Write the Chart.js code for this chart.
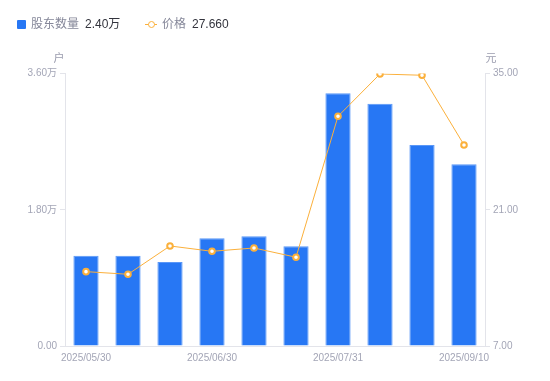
<!DOCTYPE html>
<html>
<head>
<meta charset="utf-8">
<script src="https://cdn.jsdelivr.net/npm/chart.js@4.4.1/dist/chart.umd.min.js"></script>
<style>
  html, body { margin: 0; padding: 0; background: #fff; }
  #wrap { position: relative; width: 550px; height: 381px; }
  #legend { position: absolute; left: 0; top: 0; width: 550px; height: 40px;
    font-family: "Liberation Sans", "Noto Sans CJK SC", sans-serif; font-size: 12px; }
  .lg { position: absolute; top: 17px; line-height: 14px; white-space: nowrap; }
  .nm { color: #858799; }
  .vl { color: #33343d; }
  canvas { position: absolute; left: 0; top: 0; }
</style>
</head>
<body>
<div id="wrap">
  <canvas id="c" width="550" height="381"></canvas>
  <div id="legend">
    <div style="position:absolute;left:17px;top:20px;width:9px;height:9px;background:#2777F4;border-radius:1px;"></div>
    <div class="lg nm" style="left:31px;">股东数量</div>
    <div class="lg vl" style="left:85px;">2.40万</div>
    <div style="position:absolute;left:145px;top:24px;width:12px;height:1px;background:#FBB03B;"></div>
    <div style="position:absolute;left:147.5px;top:20.5px;width:5px;height:5px;border:1.5px solid #FBB03B;border-radius:50%;background:#fff;"></div>
    <div class="lg nm" style="left:162px;">价格</div>
    <div class="lg vl" style="left:192px;">27.660</div>
  </div>
</div>
<script>
const categories = ['2025/05/30','2025/06/10','2025/06/20','2025/06/30','2025/07/10','2025/07/20','2025/07/31','2025/08/10','2025/08/29','2025/09/10'];
const holders = [11930, 11930, 11100, 14230, 14490, 13170, 33380, 32010, 26550, 24000];
const prices = [14.64, 14.37, 17.28, 16.73, 17.07, 16.12, 30.60, 34.95, 34.82, 27.66];
const leftTicks = [0, 18000, 36000];
const rightTicks = [7, 21, 35];

const tickColor = '#a3a5b6';
const lineColor = '#e3e4ea';
const tickFont = { family: '"Liberation Sans", "Noto Sans CJK SC", sans-serif', size: 10 };

function fmtLeft(v) {
  if (v === 0) return '0.00';
  return (v / 10000).toFixed(2) + '万';
}

const axisTitles = {
  id: 'axisTitles',
  afterDraw(chart) {
    const ctx = chart.ctx;
    const yl = chart.scales.y, yr = chart.scales.y1;
    ctx.save();
    ctx.font = '11px "Noto Sans CJK SC", sans-serif';
    ctx.fillStyle = '#9a9cae';
    ctx.textAlign = 'center';
    ctx.textBaseline = 'middle';
    ctx.fillText('户', yl.right - 6, yl.top - 16);
    ctx.fillText('元', yr.left + 6, yr.top - 16);
    ctx.restore();
  }
};

new Chart(document.getElementById('c'), {
  data: {
    labels: categories,
    datasets: [
      {
        type: 'line',
        label: '价格',
        data: prices,
        yAxisID: 'y1',
        borderColor: '#FBB03B',
        borderWidth: 1,
        pointRadius: 2.8,
        pointBorderWidth: 2,
        pointBackgroundColor: '#ffffff',
        pointBorderColor: '#FBB03B',
        tension: 0,
        order: 0
      },
      {
        type: 'bar',
        label: '股东数量',
        data: holders,
        yAxisID: 'y',
        backgroundColor: '#2777F4',
        borderColor: '#5a97f7',
        borderWidth: 1,
        categoryPercentage: 0.6,
        barPercentage: 1,
        order: 1
      }
    ]
  },
  options: {
    responsive: false,
    animation: false,
    layout: { padding: { top: 73.5, bottom: 0, left: 0, right: 0 } },
    plugins: { legend: { display: false }, tooltip: { enabled: false } },
    scales: {
      x: {
        type: 'category',
        offset: true,
        grid: { display: false, drawTicks: false },
        border: { display: true, color: lineColor },
        ticks: {
          color: tickColor, font: tickFont, padding: 6,
          autoSkip: false, maxRotation: 0,
          callback: function(v, i) { return i % 3 === 0 ? this.getLabelForValue(v) : ''; }
        },
        afterFit(s) { s.height = 35; }
      },
      y: {
        position: 'left',
        min: 0, max: 36000,
        afterBuildTicks(s) { s.ticks = leftTicks.map(v => ({ value: v })); },
        grid: { drawOnChartArea: false, drawTicks: true, tickLength: 5, color: lineColor },
        border: { display: true, color: lineColor },
        ticks: { color: tickColor, font: tickFont, padding: 3, callback: v => fmtLeft(v) },
        afterFit(s) { s.width = 65; }
      },
      y1: {
        position: 'right',
        min: 7, max: 35,
        afterBuildTicks(s) { s.ticks = rightTicks.map(v => ({ value: v })); },
        grid: { drawOnChartArea: false, drawTicks: true, tickLength: 5, color: lineColor },
        border: { display: true, color: lineColor },
        ticks: { color: tickColor, font: tickFont, padding: 3, callback: v => Number(v).toFixed(2) },
        afterFit(s) { s.width = 65; }
      }
    }
  },
  plugins: [axisTitles]
});
</script>
</body>
</html>
